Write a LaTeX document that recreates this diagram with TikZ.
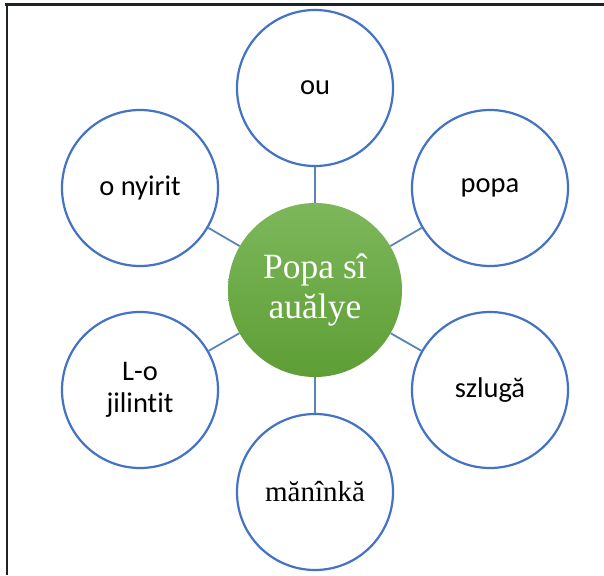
\documentclass[tikz,border=0pt]{standalone}
\usepackage{fontspec}
\setmainfont{Liberation Serif}
\newfontfamily\calibrifont[Ligatures=NoCommon]{Carlito}
\definecolor{ringblue}{HTML}{4472C4}
\definecolor{linkblue}{HTML}{5A86B4}
\definecolor{greentop}{HTML}{7DB75B}
\definecolor{greenbot}{HTML}{5E9E35}
\definecolor{framedark}{HTML}{1E2326}
\begin{document}
\begin{tikzpicture}[x=1pt,y=-1pt,
  outer/.style={circle, draw=ringblue, line width=2.2pt, fill=white, minimum size=156pt, inner sep=0pt, align=center, text=black},
  sanslabel/.style={font=\calibrifont\fontsize{28.5}{32}\selectfont},
  seriflabel/.style={font=\fontsize{29}{34}\selectfont},
  hub/.style={circle, top color=greentop, bottom color=greenbot, draw=none, minimum size=174pt, inner sep=0pt, align=center, text=white, font=\fontsize{35.5}{40}\selectfont},
  link/.style={draw=linkblue, line width=1.8pt}]
\useasboundingbox (0,0) rectangle (604,575);
\fill[white] (0,0) rectangle (604,575);
% frame
\draw[framedark, line width=3.5pt] (5,4.5) -- (604,4.5);
\draw[framedark, line width=2pt] (6.5,3) -- (6.5,575);
% nodes
\node[hub] (c) at (315,290) {Popa sî\\auălye};
\node[outer, sanslabel] (ou) at (315,88) {ou};
\node[outer, sanslabel] (popa) at (490,188) {popa};
\node[outer, sanslabel] (nyirit) at (140,188) {o nyirit};
\node[outer, sanslabel] (lo) at (140,390) {L-o\\jilintit};
\node[outer, sanslabel] (szluga) at (490,390) {szlugă};
\node[outer, seriflabel] (maninka) at (315,492) {mănînkă};
% connectors
\foreach \t in {ou,popa,nyirit,lo,szluga,maninka}
  \draw[link] (c) -- (\t);
\end{tikzpicture}
\end{document}
